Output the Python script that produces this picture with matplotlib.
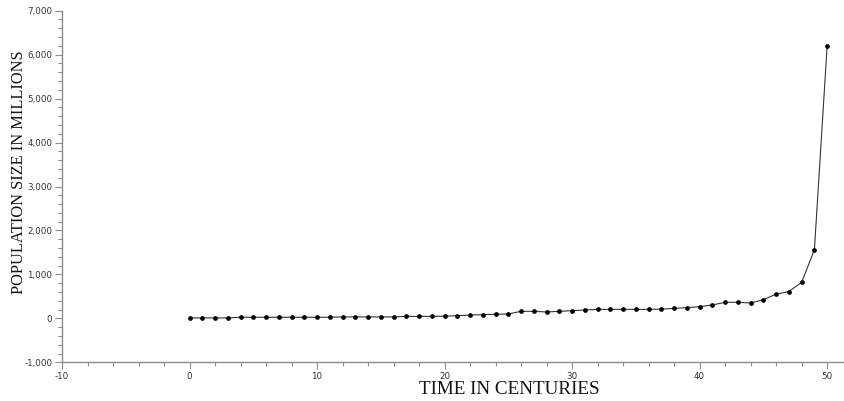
import matplotlib
matplotlib.use("Agg")
import matplotlib.pyplot as plt
from matplotlib.ticker import MultipleLocator, FuncFormatter

# world population by century (millions)
centuries = list(range(0, 51))
population = [
    10, 10, 10, 10, 25, 25, 25, 25, 25, 25,
    25, 25, 32, 32, 32, 32, 32, 45, 45, 45,
    50, 60, 75, 85, 92, 100, 160, 160, 145, 160,
    175, 190, 205, 205, 205, 205, 205, 210, 225, 245,
    265, 305, 365, 365, 350, 425, 550, 610, 820, 1560,
    6200,
]

x_range = (-10, 51.4)
y_range = (-1000, 7000)

axis_grey = "#8c8c8c"
label_font = ["Liberation Serif", "DejaVu Serif"]

fig = plt.figure(figsize=(8.45, 4.01), dpi=100)
ax_left, ax_bottom_px, ax_top_px = 62, 362.3, 10.7
ax_w = 845 - ax_left
ax_h = ax_bottom_px - ax_top_px
ax = fig.add_axes([ax_left / 845, 1 - ax_bottom_px / 401, ax_w / 845, ax_h / 401])

ax.plot(centuries, population, color="#333333", linewidth=0.8,
        marker="o", markersize=2.4, markerfacecolor="black",
        markeredgecolor="black", zorder=3)

ax.set_xlim(*x_range)
ax.set_ylim(*y_range)

for side in ("top", "right"):
    ax.spines[side].set_visible(False)
for side in ("left", "bottom"):
    ax.spines[side].set_color(axis_grey)
    ax.spines[side].set_linewidth(1.0)

ax.xaxis.set_major_locator(MultipleLocator(10))
ax.xaxis.set_minor_locator(MultipleLocator(2))
ax.yaxis.set_major_locator(MultipleLocator(1000))
ax.yaxis.set_minor_locator(MultipleLocator(200))
ax.yaxis.set_major_formatter(FuncFormatter(lambda v, p: f"{v:,.0f}"))
ax.xaxis.set_major_formatter(FuncFormatter(lambda v, p: f"{v:.0f}"))

ax.tick_params(which="major", direction="out", length=5, width=0.8,
               color=axis_grey, labelsize=6.3, labelcolor="#333333", pad=2)
ax.tick_params(which="minor", direction="out", length=3, width=0.8,
               color=axis_grey)

ax.set_xlabel("TIME IN CENTURIES", family=label_font, fontsize=13.8,
              color="#111111")
ax.xaxis.set_label_coords((509 - ax_left) / ax_w, (ax_bottom_px - 381) / ax_h)
ax.set_ylabel("POPULATION SIZE IN MILLIONS", family=label_font,
              fontsize=11.8, color="#111111")
ax.yaxis.set_label_coords(-(ax_left - 27) / ax_w, (ax_bottom_px - 172) / ax_h)

fig.savefig("out.png", dpi=100)
